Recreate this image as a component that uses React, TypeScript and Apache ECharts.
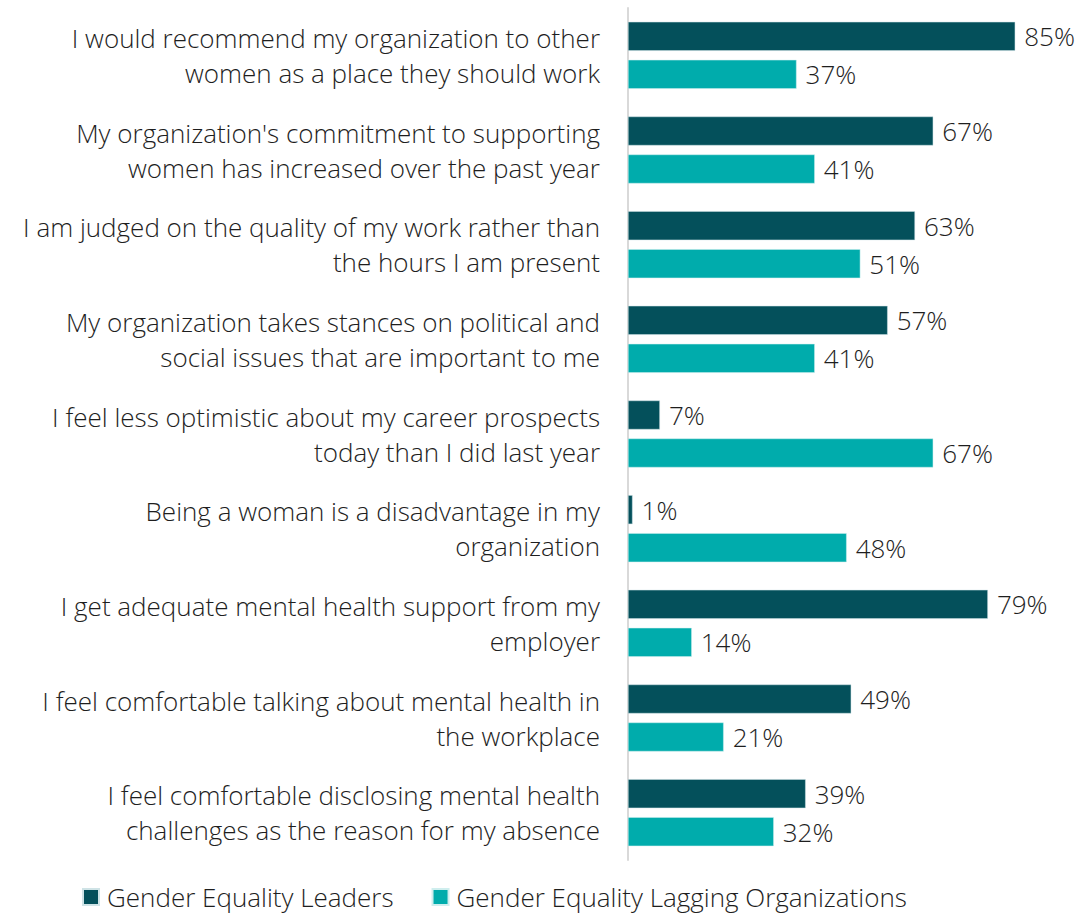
import React, { useEffect, useRef } from "react";
import * as echarts from "echarts";

// Survey statements (top to bottom)
const statements = [
  "I would recommend my organization to other\nwomen as a place they should work",
  "My organization's commitment to supporting\nwomen has increased over the past year",
  "I am judged on the quality of my work rather than\nthe hours I am present",
  "My organization takes stances on political and\nsocial issues that are important to me",
  "I feel less optimistic about my career prospects\ntoday than I did last year",
  "Being a woman is a disadvantage in my\norganization",
  "I get adequate mental health support from my\nemployer",
  "I feel comfortable talking about mental health in\nthe workplace",
  "I feel comfortable disclosing mental health\nchallenges as the reason for my absence",
];

// Share of respondents agreeing (%)
const leaders = [85, 67, 63, 57, 7, 1, 79, 49, 39];
const lagging = [37, 41, 51, 41, 67, 48, 14, 21, 32];

const seriesNames = ["Gender Equality Leaders", "Gender Equality Lagging Organizations"];

const FONT = "Open Sans";
const WEIGHT = 300;
const SIZE = 26;
const TEXT = "#1e1e1e";

export default function App() {
  const ref = useRef<HTMLDivElement>(null);

  useEffect(() => {
    document.body.style.margin = "0";
    const chart = echarts.init(ref.current!, null, { renderer: "svg" });
    const label = {
      show: true,
      position: "right" as const,
      distance: 9,
      formatter: "{c}%",
      color: TEXT,
      fontFamily: FONT,
      fontWeight: WEIGHT,
      fontSize: SIZE,
    };
    chart.setOption({
      animation: false,
      legend: {
        top: 884,
        left: 82,
        padding: 0,
        itemWidth: 16,
        itemHeight: 16,
        itemGap: 38,
        icon: "rect",
        textStyle: {
          color: TEXT,
          fontFamily: FONT,
          fontWeight: WEIGHT,
          fontSize: SIZE,
          lineHeight: 26,
          padding: [0, 0, 0, 3],
        },
        data: seriesNames,
      },
      grid: { left: 628, top: 8, bottom: 56, right: 41 },
      xAxis: {
        type: "value",
        min: 0,
        max: 90,
        show: false,
      },
      yAxis: {
        type: "category",
        inverse: true,
        data: statements,
        axisLine: { show: true, lineStyle: { color: "#d9d9d9", width: 2 } },
        axisTick: { show: false },
        axisLabel: {
          color: TEXT,
          fontFamily: FONT,
          fontWeight: WEIGHT,
          fontSize: SIZE,
          lineHeight: 35,
          align: "right",
          margin: 28,
        },
      },
      series: [
        {
          name: seriesNames[0],
          type: "bar",
          data: leaders,
          barWidth: 29,
          barGap: "31%",
          itemStyle: { color: "#04505B", borderColor: "#cfe3e6", borderWidth: 0.5 },
          label,
        },
        {
          name: seriesNames[1],
          type: "bar",
          data: lagging,
          barWidth: 29,
          itemStyle: { color: "#00ACAC", borderColor: "#cfeeee", borderWidth: 0.5 },
          label,
        },
      ],
    });
    return () => chart.dispose();
  }, []);

  return <div ref={ref} style={{ width: 1079, height: 916 }} />;
}
